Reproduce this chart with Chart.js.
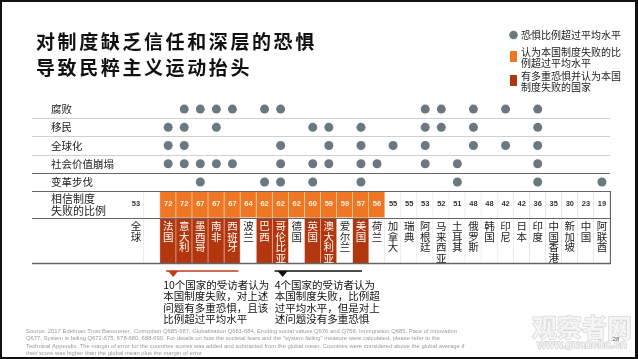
<!DOCTYPE html>
<html>
<head>
<meta charset="utf-8">
<script src="https://cdn.jsdelivr.net/npm/chart.js@4.4.1/dist/chart.umd.min.js"></script>
<style>
  html, body { margin: 0; padding: 0; background: #fff; }
  #wrap { width: 638px; height: 359px; }
</style>
</head>
<body>
<div id="wrap"><canvas id="c" width="638" height="359"></canvas></div>
<script>
// --- data ---
const countries = ['法国', '意大利', '墨西哥', '南非', '西班牙', '波兰', '巴西', '哥伦比亚', '德国', '英国',
  '澳大利亚', '爱尔兰', '美国', '荷兰', '加拿大', '瑞典', '阿根廷', '马来西亚', '土耳其', '俄罗斯',
  '韩国', '印尼', '日本', '印度', '中国香港', '新加坡', '中国', '阿联酋'];
const failingShare = [72, 72, 67, 67, 67, 64, 62, 62, 62, 60, 59, 59, 57, 56, 55, 55, 53, 52, 51, 48,
  48, 42, 42, 36, 35, 30, 23, 19];
const globalLabel = '全球';
const globalShare = 53;

const fearRows = ['腐败', '移民', '全球化', '社会价值崩塌', '变革步伐'];
const fearCorruption = ['意大利', '墨西哥', '南非', '西班牙', '巴西', '哥伦比亚', '阿根廷', '马来西亚', '俄罗斯', '印尼', '印度'];
const fearImmigration = ['法国', '意大利', '南非', '英国', '澳大利亚', '美国', '阿根廷', '马来西亚', '俄罗斯', '印度'];
const fearGlobalization = ['法国', '意大利', '哥伦比亚', '澳大利亚', '美国', '加拿大', '阿根廷', '俄罗斯', '印尼', '印度'];
const fearSocialValues = ['法国', '意大利', '墨西哥', '南非', '西班牙', '哥伦比亚', '英国', '澳大利亚', '美国', '荷兰', '阿根廷', '土耳其', '印度'];
const fearPace = ['墨西哥', '巴西', '哥伦比亚', '英国', '美国', '土耳其', '印度', '阿联酋'];

// countries whose "system failing" share is above the global average
const failingAboveAvg = ['法国', '意大利', '墨西哥', '南非', '西班牙', '波兰', '巴西', '哥伦比亚', '德国', '英国',
  '澳大利亚', '爱尔兰', '美国', '荷兰'];
// above average on system failing and with several fears
const multiFear = ['法国', '意大利', '墨西哥', '南非', '西班牙', '巴西', '哥伦比亚', '英国', '澳大利亚', '美国'];

const legendItems = ['恐惧比例超过平均水平', '认为本国制度失败的比\n例超过平均水平', '有多重恐惧并认为本国\n制度失败的国家'];
const noteMulti = ['10个国家的受访者认为', '本国制度失败，对上述', '问题有多重恐惧，且该', '比例超过平均水平'];
const noteSingle = ['4个国家的受访者认为', '本国制度失败，比例超', '过平均水平，但是对上', '述问题没有多重恐惧'];
const sourceLines = [
  'Source: 2017 Edelman Trust Barometer.  Corruption Q685-687, Globalization Q681-684, Eroding social values Q676 and Q758, Immigration Q685, Pace of innovation',
  'Q677, System is failing Q672-675, 678-680, 688-690. For details on how the societal fears and the "system failing" measure were calculated, please refer to the',
  'Technical Appendix. The margin of error for the countries scores was added and subtracted from the global mean. Countries were considered above the global average if',
  'their score was higher than the global mean plus the margin of error.'
];

// --- layout / style ---
const ORANGE = '#ef7622';
const DARK = '#b2360e';
const DOT = '#6b797f';
const CJK = '"Noto Sans CJK SC", "Noto Sans", sans-serif';
const LAT = '"Liberation Sans", Arial, sans-serif';
const NUM_TOP = 5, NUM_BOTTOM = 6.45, NAME_BOTTOM = 9;

const columns = [globalLabel, ''].concat(countries);
const fearSets = [fearCorruption, fearImmigration, fearGlobalization, fearSocialValues, fearPace];

const cellBorder = { left: 0, right: 1, top: 0, bottom: 0 };

const datasets = [];
fearSets.forEach((list, r) => {
  datasets.push({
    type: 'line',
    label: fearRows[r],
    data: columns.map(c => list.includes(c) ? r + 0.5 : null),
    showLine: false,
    pointRadius: 4.5,
    pointHoverRadius: 4.5,
    pointBackgroundColor: DOT,
    pointBorderWidth: 0,
    order: 0
  });
});
datasets.push({
  type: 'bar',
  label: 'share',
  data: columns.map(() => [NUM_TOP, NUM_BOTTOM]),
  backgroundColor: columns.map(c => failingAboveAvg.includes(c) ? ORANGE : '#fff'),
  borderColor: columns.map(c => failingAboveAvg.includes(c) ? '#fbd9c0' : '#e0e0e0'),
  borderWidth: cellBorder,
  borderSkipped: false,
  grouped: false,
  barPercentage: 1,
  categoryPercentage: 1,
  order: 2
});
datasets.push({
  type: 'bar',
  label: 'names',
  data: columns.map(() => [NUM_BOTTOM, NAME_BOTTOM]),
  backgroundColor: columns.map(c => multiFear.includes(c) ? DARK : '#fff'),
  borderColor: columns.map(c => multiFear.includes(c) ? '#e8b8a8' : '#e0e0e0'),
  borderWidth: cellBorder,
  borderSkipped: false,
  grouped: false,
  barPercentage: 1,
  categoryPercentage: 1,
  order: 2
});

function hline(ctx, x0, x1, yy, color, w) {
  ctx.strokeStyle = color;
  ctx.lineWidth = w;
  ctx.beginPath();
  ctx.moveTo(x0, yy);
  ctx.lineTo(x1, yy);
  ctx.stroke();
}

const tableDecor = {
  id: 'tableDecor',
  afterDatasetsDraw(chart) {
    const { ctx, scales: { x, y }, chartArea } = chart;
    const left = 32, right = chartArea.right + 1;
    ctx.save();

    // row separators
    for (let r = 1; r <= 4; r++) {
      const yy = Math.round(y.getPixelForValue(r)) + 0.5;
      hline(ctx, left, chartArea.right, yy, r === 4 ? '#666' : '#cfcfcf', 1);
    }
    hline(ctx, left, right, Math.round(y.getPixelForValue(NUM_TOP)) + 0.5, '#666', 1);
    hline(ctx, left, right, Math.round(y.getPixelForValue(NUM_BOTTOM)) + 0.5, '#666', 1);
    hline(ctx, left, right, Math.round(y.getPixelForValue(NAME_BOTTOM)) - 0.5, '#666', 1.5);
    ctx.strokeStyle = '#666';
    ctx.lineWidth = 1;
    ctx.beginPath();
    ctx.moveTo(right - 0.5, y.getPixelForValue(NUM_TOP));
    ctx.lineTo(right - 0.5, y.getPixelForValue(NAME_BOTTOM));
    ctx.stroke();

    // row labels
    ctx.fillStyle = '#222';
    ctx.textBaseline = 'middle';
    ctx.textAlign = 'left';
    ctx.font = '10.5px ' + CJK;
    fearRows.forEach((name, r) => ctx.fillText(name, 51, y.getPixelForValue(r + 0.5)));
    const numMid = y.getPixelForValue((NUM_TOP + NUM_BOTTOM) / 2);
    ctx.font = '11px ' + CJK;
    ctx.fillText('相信制度', 51, numMid - 6);
    ctx.fillText('失败的比例', 51, numMid + 6);

    // share numbers
    ctx.textAlign = 'center';
    ctx.font = 'bold 7.5px ' + LAT;
    ctx.fillStyle = '#333';
    ctx.fillText(String(globalShare), x.getPixelForValue(0), numMid);
    countries.forEach((c, i) => {
      ctx.fillStyle = failingAboveAvg.includes(c) ? '#fff3ea' : '#333';
      ctx.fillText(String(failingShare[i]), x.getPixelForValue(i + 2), numMid);
    });

    // vertical names
    const nameTop = y.getPixelForValue(NUM_BOTTOM);
    ctx.font = '10.5px ' + CJK;
    columns.forEach((c, i) => {
      ctx.fillStyle = multiFear.includes(c) ? '#fff' : '#222';
      Array.from(c).forEach((ch, k) => {
        ctx.fillText(ch, x.getPixelForValue(i), nameTop + 8.5 + k * 10.7);
      });
    });
    ctx.restore();
  },
  afterDraw(chart) {
    const { ctx, scales: { x, y } } = chart;
    ctx.save();

    // title
    ctx.fillStyle = '#111';
    ctx.textBaseline = 'middle';
    ctx.textAlign = 'left';
    ctx.font = 'bold 19px ' + CJK;
    ctx.letterSpacing = '2.6px';
    ctx.fillText('对制度缺乏信任和深层的恐惧', 36, 42);
    ctx.fillText('导致民粹主义运动抬头', 36, 68);
    ctx.letterSpacing = '0px';

    // legend
    ctx.fillStyle = DOT;
    ctx.beginPath();
    ctx.arc(513.5, 35, 4.3, 0, Math.PI * 2);
    ctx.fill();
    ctx.fillStyle = ORANGE;
    ctx.fillRect(510, 51, 7, 11);
    ctx.fillStyle = DARK;
    ctx.fillRect(510, 75, 7, 11);
    ctx.fillStyle = '#222';
    ctx.font = '10px ' + CJK;
    const legendY = [35, 52, 76];
    legendItems.forEach((t, i) => {
      t.split('\n').forEach((ln, k) => ctx.fillText(ln, 521, legendY[i] + k * 11.5));
    });

    // annotations under the table
    const base = y.getPixelForValue(NAME_BOTTOM) + 7;
    const x0 = x.getPixelForValue(2), x1 = x.getPixelForValue(6);
    const x2 = x.getPixelForValue(9), x3 = x.getPixelForValue(14);
    hline(ctx, x0 - 2, x1 + 6, base, '#c23a12', 1.5);
    hline(ctx, x2 - 6, x3 + 1, base, '#111', 1.5);
    const tri = (cx, color) => {
      ctx.fillStyle = color;
      ctx.beginPath();
      ctx.moveTo(cx - 5, base);
      ctx.lineTo(cx + 5, base);
      ctx.lineTo(cx, base + 6);
      ctx.closePath();
      ctx.fill();
    };
    tri(x0 + 5, '#c23a12');
    tri(x2 + 2, '#111');
    ctx.fillStyle = '#111';
    ctx.font = '10.5px ' + CJK;
    noteMulti.forEach((ln, k) => ctx.fillText(ln, x0 - 5, base + 14 + k * 11.5));
    noteSingle.forEach((ln, k) => ctx.fillText(ln, x2 - 6, base + 14 + k * 11.5));

    // source
    ctx.fillStyle = '#9a9a9a';
    ctx.font = '6px ' + LAT;
    const w0 = ctx.measureText(sourceLines[0]).width;
    const sx = 431 / w0;
    sourceLines.forEach((ln, k) => {
      ctx.save();
      ctx.translate(26, 331.5 + k * 7.3);
      ctx.scale(sx, 1);
      ctx.fillText(ln, 0, 0);
      ctx.restore();
    });

    // watermark
    ctx.textAlign = 'center';
    ctx.font = 'bold 25px ' + CJK;
    ctx.lineWidth = 1.5;
    ctx.strokeStyle = 'rgba(170,170,170,0.45)';
    ctx.strokeText('观察者网', 582, 327);
    ctx.fillStyle = 'rgba(245,245,245,0.9)';
    ctx.fillText('观察者网', 582, 327);
    ctx.font = 'bold 11px ' + LAT;
    ctx.strokeText('www.guancha.cn', 582, 345);
    ctx.fillText('www.guancha.cn', 582, 345);
    ctx.fillStyle = '#555';
    ctx.font = '6px ' + LAT;
    ctx.fillText('28', 616, 339);

    // frame
    ctx.fillStyle = '#111';
    ctx.fillRect(0, 0, 638, 2);
    ctx.fillRect(0, 0, 2, 359);
    ctx.fillRect(635, 0, 3, 359);
    ctx.fillRect(0, 357, 638, 2);
    ctx.restore();
  }
};

new Chart(document.getElementById('c'), {
  type: 'bar',
  data: { labels: columns, datasets: datasets },
  options: {
    responsive: false,
    animation: false,
    devicePixelRatio: 1,
    events: [],
    layout: { padding: { left: 128, right: 28, top: 100, bottom: 95 } },
    plugins: { legend: { display: false }, tooltip: { enabled: false } },
    scales: {
      x: { type: 'category', display: false, offset: true, grid: { display: false } },
      y: { type: 'linear', display: false, reverse: true, min: 0, max: NAME_BOTTOM }
    }
  },
  plugins: [tableDecor]
});
</script>
</body>
</html>
